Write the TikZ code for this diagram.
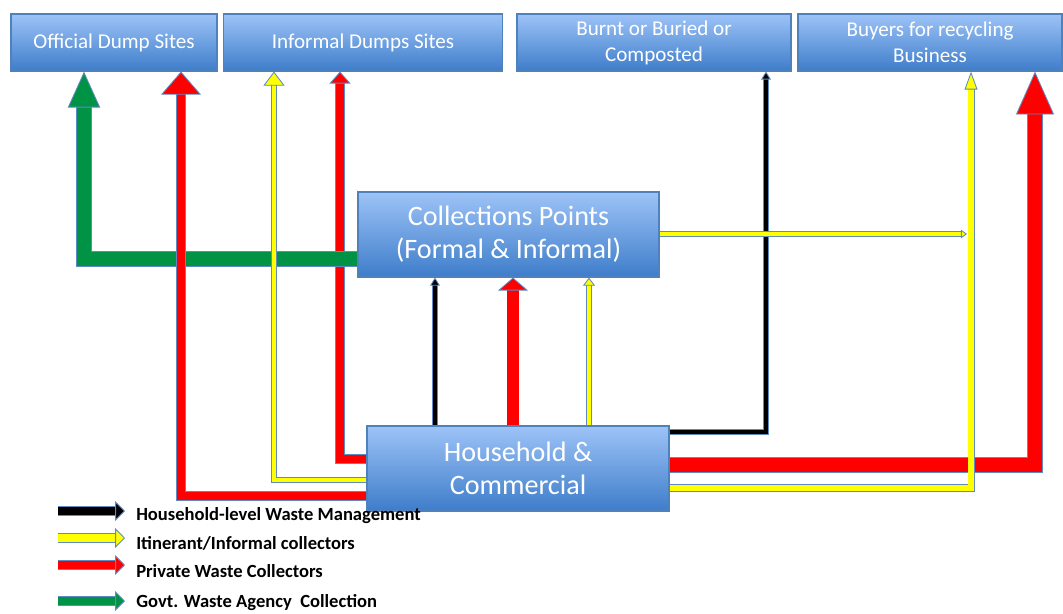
\documentclass[tikz,border=0pt]{standalone}
\usepackage{fontspec}
\setmainfont{Carlito}
\usetikzlibrary{arrows.meta}

\definecolor{boxtop}{RGB}{157,195,247}
\definecolor{boxbot}{RGB}{62,125,202}
\definecolor{boxedge}{RGB}{79,129,189}
\definecolor{edgeblue}{RGB}{95,138,196}
\definecolor{wgreen}{RGB}{0,146,69}
\definecolor{wred}{RGB}{255,0,0}
\definecolor{wyellow}{RGB}{255,255,0}

\tikzset{
  box/.style={draw=boxedge, line width=0.8pt, top color=boxtop, bottom color=boxbot, text=white, align=center, inner sep=0pt},
  topbox/.style={box, minimum height=1.425cm, font=\fontsize{15}{18.5}\selectfont},
  midbox/.style={box, minimum width=7.55cm, minimum height=2.125cm, font=\fontsize{20}{23.5}\selectfont},
  key/.style={anchor=west, inner sep=0pt, font=\bfseries\fontsize{13.2}{15}\selectfont},
  flow/.style args={#1/#2/#3/#4}{draw=#1, line width=#2,
    -{Triangle[width=#3,length=#4,color=edgeblue,fill=#1,line width=0.6pt]},
    preaction={draw=edgeblue, line width=#2+1.2pt, arrows=-, shorten >=0.7*#4}}
}

\begin{document}
\begin{tikzpicture}[x=0.025cm,y=-0.025cm]
\useasboundingbox (0,0) rectangle (1063,613);

% destinations
\node (official) at (114,42.5) [topbox, minimum width=5.15cm] {Official Dump Sites};
\node (informal) at (363,42.5) [topbox, minimum width=6.975cm] {Informal Dumps Sites};
\node (burnt) at (654,42.5) [topbox, minimum width=6.85cm] {Burnt or Buried or\\Composted};
\node (buyers) at (930,42.5) [topbox, minimum width=6.6cm] {Buyers for recycling\\Business};

% sources
\node (collect) at (508.5,234.5) [midbox, minimum width=7.525cm] {Collections Points\\(Formal \& Informal)};
\node (house) at (518,468.5) [midbox] {Household \&\\Commercial};

% turning points
\coordinate (g1) at (84,259);
\coordinate (r1) at (181,496);
\coordinate (y1) at (274,480);
\coordinate (r2) at (340,459);
\coordinate (b1) at (766,432);
\coordinate (r3) at (1035,465);
\coordinate (y2) at (971,488);
\coordinate (y3) at (967,234);
\coordinate (m1) at (435,350);
\coordinate (m2) at (513,350);
\coordinate (m3) at (589,350);

\draw[flow=wred/5.9pt/15pt/8.5pt] (house.west |- r2) -- (r2) -- (informal.south -| r2);
\draw[flow=wgreen/9.5pt/23pt/25.6pt] (collect.west |- g1) -- (g1) -- (official.south -| g1);
\draw[flow=wred/5.9pt/28.4pt/16.4pt] (house.west |- r1) -- (r1) -- (official.south -| r1);
\draw[flow=wyellow/2.4pt/15pt/10pt] (house.west |- y1) -- (y1) -- (informal.south -| y1);
\draw[flow=black/2.4pt/7pt/5.7pt] (house.east |- b1) -- (b1) -- (burnt.south -| b1);
\draw[flow=wyellow/2.4pt/6pt/4.3pt] (collect.east |- y3) -- (y3);
\draw[flow=wred/9.5pt/27pt/30.5pt] (house.east |- r3) -- (r3) -- (buyers.south -| r3);
\draw[flow=wyellow/3.8pt/9.2pt/12.8pt] (house.east |- y2) -- (y2) -- (buyers.south -| y2);

\draw[flow=black/2.4pt/7pt/5.7pt] (house.north -| m1) -- (collect.south -| m1);
\draw[flow=wred/8pt/21.3pt/9.2pt] (house.north -| m2) -- (collect.south -| m2);
\draw[flow=wyellow/2.4pt/8.5pt/5.7pt] (house.north -| m3) -- (collect.south -| m3);

% legend
\node (key1) at (136,516) [key] {Household-level Waste Management};
\node (key2) at (136,543) [key] {Itinerant/Informal collectors};
\node (key3) at (136,571) [key] {Private Waste Collectors};
\node (key4) at (136,603) [key] {Govt. Waste Agency~ Collection};
\coordinate (k1a) at (58,511); \coordinate (k1b) at (125,511);
\coordinate (k2a) at (58,538); \coordinate (k2b) at (125,538);
\coordinate (k3a) at (58,565); \coordinate (k3b) at (125,565);
\coordinate (k4a) at (58,601); \coordinate (k4b) at (125,601);
\draw[flow=black/5.9pt/14pt/7pt] (k1a) -- (k1b);
\draw[flow=wyellow/5.9pt/14pt/7pt] (k2a) -- (k2b);
\draw[flow=wred/5.9pt/14pt/7pt] (k3a) -- (k3b);
\draw[flow=wgreen/5.9pt/14pt/7pt] (k4a) -- (k4b);

\end{tikzpicture}
\end{document}
